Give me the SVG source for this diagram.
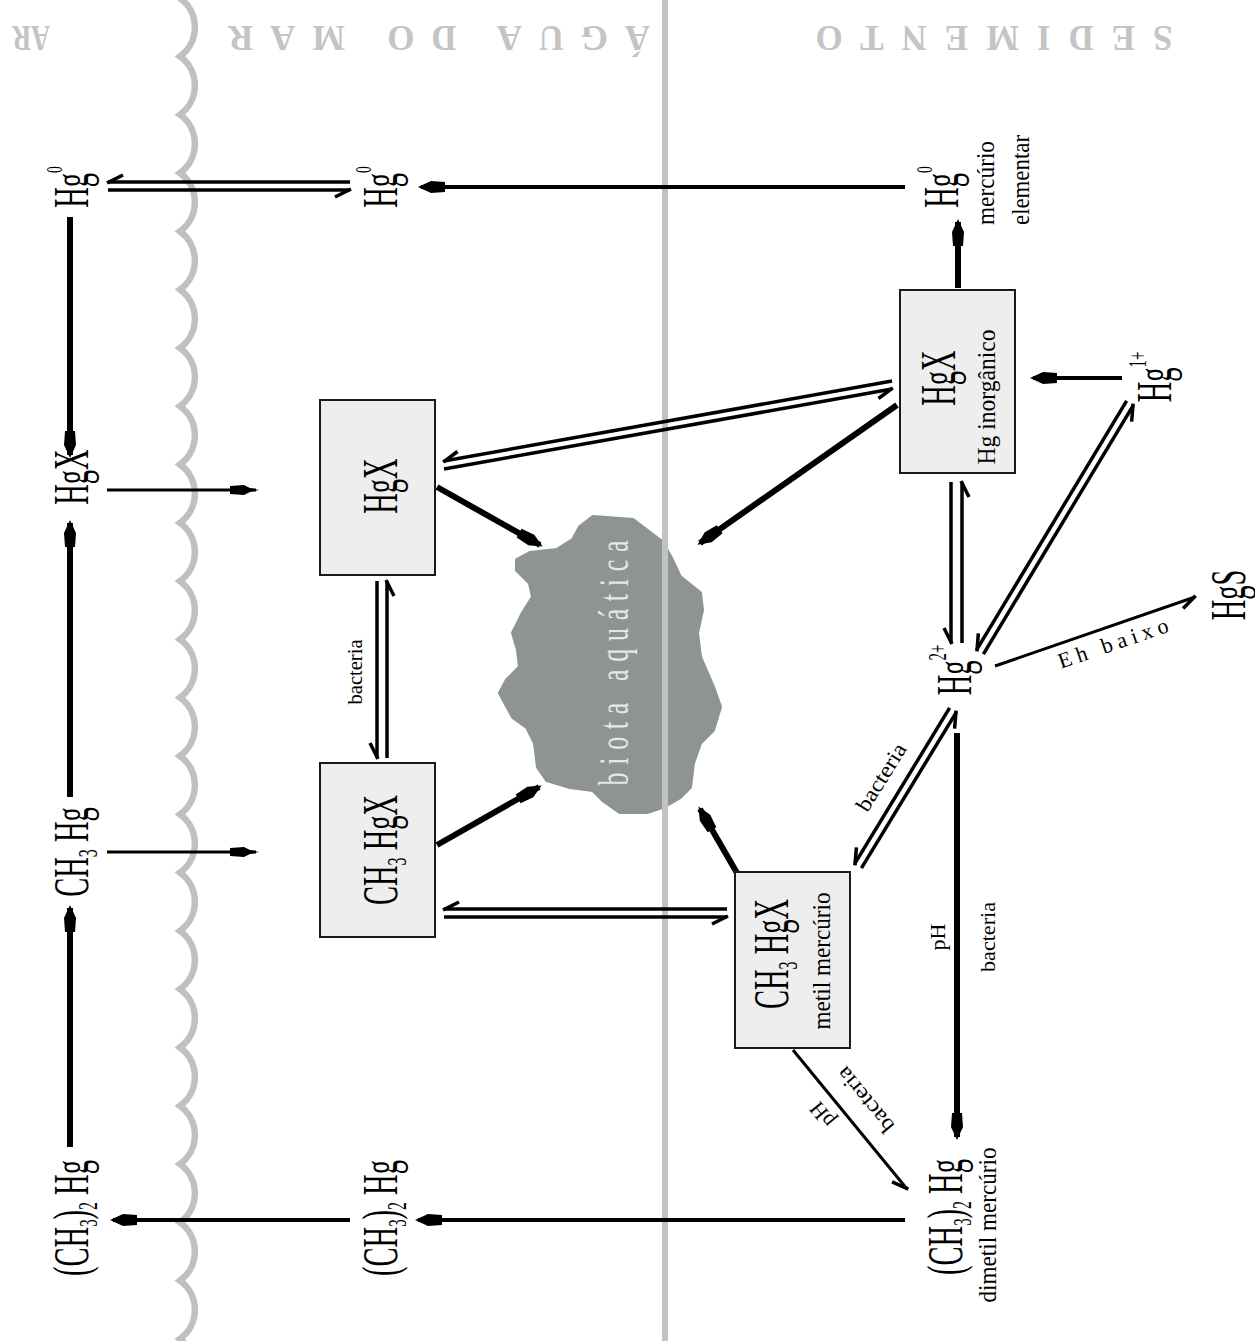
<svg xmlns="http://www.w3.org/2000/svg" width="1255" height="1341" viewBox="0 0 1255 1341">
<defs>
<style>
text{font-family:"Liberation Serif","Times New Roman",serif;fill:#000}
.f{font-size:50px;text-anchor:middle}
.s{font-size:25px;text-anchor:middle}
.l{font-size:22px;text-anchor:middle}
.hdr{font-size:35px;font-weight:bold;fill:#c4c4c4;text-anchor:middle}
.box{fill:#eeeeee;stroke:#1a1a1a;stroke-width:2}
.thick{stroke-width:6}
.med{stroke-width:4}
.thin{stroke-width:3}
.dbl{stroke-width:3.5}
</style>
<marker id="ah" markerUnits="userSpaceOnUse" markerWidth="40" markerHeight="20" viewBox="-30 -10 40 20" refX="0" refY="0" orient="auto" overflow="visible">
<path d="M3,0 L-10,-6 L-24,-5 L-24,5 L-10,6 Z" fill="#000"/>
</marker>
<marker id="ahs" markerUnits="userSpaceOnUse" markerWidth="40" markerHeight="20" viewBox="-30 -10 40 20" refX="0" refY="0" orient="auto" overflow="visible">
<path d="M3,0 L-6,-2 L-12,-5 L-26,-4 L-26,4 L-12,5 L-6,2 Z" fill="#000"/>
</marker>
<marker id="hr" markerUnits="userSpaceOnUse" markerWidth="30" markerHeight="20" viewBox="-20 -10 30 20" refX="0" refY="0" orient="auto" overflow="visible">
<path d="M1,-1 L-15,7" stroke="#000" stroke-width="3.5" fill="none"/>
</marker>
</defs>
<rect width="1255" height="1341" fill="#fff"/>

<g id="background">
<path d="M180,-60.2 a36,36 0 0 1 0,58.3 a36,36 0 0 1 0,58.3 a36,36 0 0 1 0,58.3 a36,36 0 0 1 0,58.3 a36,36 0 0 1 0,58.3 a36,36 0 0 1 0,58.3 a36,36 0 0 1 0,58.3 a36,36 0 0 1 0,58.3 a36,36 0 0 1 0,58.3 a36,36 0 0 1 0,58.3 a36,36 0 0 1 0,58.3 a36,36 0 0 1 0,58.3 a36,36 0 0 1 0,58.3 a36,36 0 0 1 0,58.3 a36,36 0 0 1 0,58.3 a36,36 0 0 1 0,58.3 a36,36 0 0 1 0,58.3 a36,36 0 0 1 0,58.3 a36,36 0 0 1 0,58.3 a36,36 0 0 1 0,58.3 a36,36 0 0 1 0,58.3 a36,36 0 0 1 0,58.3 a36,36 0 0 1 0,58.3 a36,36 0 0 1 0,58.3 a36,36 0 0 1 0,58.3" fill="none" stroke="#c0c0c0" stroke-width="6.5"/>
<text class="hdr" x="31" y="50" textLength="38" lengthAdjust="spacingAndGlyphs" transform="rotate(180 31 38)">AR</text>
<text class="hdr" x="439" y="50" textLength="422" lengthAdjust="spacing" transform="rotate(180 439 38)">ÁGUA DO MAR</text>
<text class="hdr" x="994" y="50" textLength="357" lengthAdjust="spacing" transform="rotate(180 994 38)">SEDIMENTO</text>
</g>

<g id="biota">
<path d="M580,527 L593,517 L633,520 L662,542 L672,560 L680,577 L700,593 L702,610 L697,633 L700,657 L713,687 L720,707 L713,730 L700,743 L693,763 L690,787 L680,797 L670,803 L662,807 L647,812 L620,812 L603,800 L593,790 L570,787 L547,780 L538,767 L535,743 L527,727 L513,717 L500,693 L507,680 L520,667 L518,650 L513,633 L523,613 L533,597 L530,583 L517,570 L517,560 L530,553 L557,550 L573,540 Z" fill="#8e9490" stroke="#8e9490" stroke-width="4" stroke-linejoin="round"/>
<text transform="translate(628,663) rotate(-90) scale(0.62,1)" style="font-size:42px;fill:#e6e6e6;text-anchor:middle" textLength="395" lengthAdjust="spacing">biota aquática</text>
</g>

<line id="sediment-boundary" x1="665" y1="0" x2="665" y2="1341" stroke="#c2c2c2" stroke-width="6"/>

<g id="connectors" fill="none" stroke="#000">
<line class="thick" x1="70" y1="217" x2="70" y2="455" marker-end="url(#ah)"/>
<line class="thick" x1="70" y1="797" x2="70" y2="523" marker-end="url(#ah)"/>
<line class="thick" x1="70" y1="1147" x2="70" y2="908" marker-end="url(#ah)"/>
<line class="thin" x1="107" y1="490" x2="256" y2="490" marker-end="url(#ahs)"/>
<line class="thin" x1="107" y1="852" x2="256" y2="852" marker-end="url(#ahs)"/>
<line class="dbl" x1="350" y1="182" x2="108" y2="182" marker-end="url(#hr)"/>
<line class="dbl" x1="108" y1="190" x2="350" y2="190" marker-end="url(#hr)"/>
<line class="med" x1="905" y1="187" x2="421" y2="187" marker-end="url(#ah)"/>
<line class="med" x1="905" y1="1220" x2="418" y2="1220" marker-end="url(#ah)"/>
<line class="med" x1="350" y1="1220" x2="113" y2="1220" marker-end="url(#ah)"/>
<line class="dbl" x1="377" y1="581" x2="377" y2="758" marker-end="url(#hr)"/>
<line class="dbl" x1="387" y1="758" x2="387" y2="581" marker-end="url(#hr)"/>
<line class="dbl" x1="892" y1="381" x2="444" y2="461" marker-end="url(#hr)"/>
<line class="dbl" x1="444" y1="469" x2="892" y2="389" marker-end="url(#hr)"/>
<line class="dbl" x1="727" y1="909" x2="444" y2="909" marker-end="url(#hr)"/>
<line class="dbl" x1="444" y1="917" x2="727" y2="917" marker-end="url(#hr)"/>
<line class="thick" x1="437" y1="487" x2="540" y2="545" marker-end="url(#ah)"/>
<line class="thick" x1="437" y1="845" x2="539" y2="787" marker-end="url(#ah)"/>
<line class="thick" x1="897" y1="405" x2="700" y2="543" marker-end="url(#ah)"/>
<line class="thick" x1="737" y1="873" x2="700" y2="809" marker-end="url(#ah)"/>
<line class="thick" x1="958" y1="288" x2="958" y2="222" marker-end="url(#ah)"/>
<line class="med" x1="1122" y1="378" x2="1033" y2="378" marker-end="url(#ah)"/>
<line class="dbl" x1="951" y1="482" x2="951" y2="643" marker-end="url(#hr)"/>
<line class="dbl" x1="962" y1="643" x2="962" y2="482" marker-end="url(#hr)"/>
<line class="dbl" x1="1126.6" y1="400.9" x2="976.6" y2="649.9" marker-end="url(#hr)"/>
<line class="dbl" x1="983.4" y1="654.1" x2="1133.4" y2="405.1" marker-end="url(#hr)"/>
<line class="thin" x1="995" y1="666" x2="1195" y2="597" marker-end="url(#hr)"/>
<line class="dbl" x1="949.6" y1="707.9" x2="854.6" y2="863.9" marker-end="url(#hr)"/>
<line class="dbl" x1="861.4" y1="868.1" x2="956.4" y2="712.1" marker-end="url(#hr)"/>
<line class="thick" x1="957" y1="733" x2="957" y2="1137" marker-end="url(#ah)"/>
<line class="thin" x1="793" y1="1050" x2="907" y2="1189" marker-end="url(#hr)"/>
<g stroke="none">
<text class="l" transform="translate(362,672) rotate(-90)" textLength="65" lengthAdjust="spacingAndGlyphs">bacteria</text>
<text class="l" transform="translate(945,937) rotate(-90)" textLength="27" lengthAdjust="spacingAndGlyphs">pH</text>
<text class="l" transform="translate(995,937) rotate(-90)" textLength="70" lengthAdjust="spacingAndGlyphs">bacteria</text>
<text class="l" dominant-baseline="central" transform="translate(881,777) rotate(-58)" textLength="76" lengthAdjust="spacingAndGlyphs">bacteria</text>
<text class="l" dominant-baseline="central" transform="translate(1113,643) rotate(-19)" textLength="115" lengthAdjust="spacing">Eh baixo</text>
<text class="l" dominant-baseline="central" transform="translate(865,1100) rotate(230.6)" textLength="78" lengthAdjust="spacingAndGlyphs">bacteria</text>
<text class="l" dominant-baseline="central" transform="translate(822,1115) rotate(230.6)" textLength="26" lengthAdjust="spacingAndGlyphs">pH</text>
</g>
</g>

<g id="ar-hg0"><text class="f" transform="translate(88,187) rotate(-90) scale(0.57,1)">Hg<tspan font-size="24" dy="-26">0</tspan></text></g>
<g id="ar-hgx"><text class="f" transform="translate(88,477) rotate(-90) scale(0.57,1)">HgX</text></g>
<g id="ar-ch3hg"><text class="f" transform="translate(88,852) rotate(-90) scale(0.57,1)">CH<tspan font-size="28" dy="9">3</tspan><tspan dy="-9"> Hg</tspan></text></g>
<g id="ar-ch32hg"><text class="f" transform="translate(88,1218) rotate(-90) scale(0.57,1)">(CH<tspan font-size="26" dy="9">3</tspan><tspan dy="-9">)</tspan><tspan font-size="28" dy="9">2</tspan><tspan dy="-9"> Hg</tspan></text></g>

<g id="mar-hg0"><text class="f" transform="translate(397,187) rotate(-90) scale(0.57,1)">Hg<tspan font-size="24" dy="-26">0</tspan></text></g>
<g id="mar-hgx"><rect class="box" x="320" y="400" width="115" height="175"/><text class="f" transform="translate(397,486) rotate(-90) scale(0.57,1)">HgX</text></g>
<g id="mar-ch3hgx"><rect class="box" x="320" y="763" width="115" height="174"/><text class="f" transform="translate(397,850) rotate(-90) scale(0.57,1)">CH<tspan font-size="28" dy="9">3</tspan><tspan dy="-9"> HgX</tspan></text></g>
<g id="mar-ch32hg"><text class="f" transform="translate(397,1218) rotate(-90) scale(0.57,1)">(CH<tspan font-size="26" dy="9">3</tspan><tspan dy="-9">)</tspan><tspan font-size="28" dy="9">2</tspan><tspan dy="-9"> Hg</tspan></text></g>

<g id="sed-hg0">
<text class="f" transform="translate(958,187) rotate(-90) scale(0.57,1)">Hg<tspan font-size="24" dy="-26">0</tspan></text>
<text class="s" transform="translate(994,183) rotate(-90)" textLength="84" lengthAdjust="spacingAndGlyphs">mercúrio</text>
<text class="s" transform="translate(1029,180) rotate(-90)" textLength="90" lengthAdjust="spacingAndGlyphs">elementar</text>
</g>
<g id="sed-hgx">
<rect class="box" x="900" y="290" width="115" height="183"/>
<text class="f" transform="translate(955,378) rotate(-90) scale(0.57,1)">HgX</text>
<text class="s" transform="translate(995,397) rotate(-90)" textLength="135" lengthAdjust="spacingAndGlyphs">Hg  inorgânico</text>
</g>
<g id="sed-hg1"><text class="f" transform="translate(1171,377) rotate(-90) scale(0.57,1)">Hg<tspan font-size="26" dy="-25">1+</tspan></text></g>
<g id="sed-hg2"><text class="f" transform="translate(971,670) rotate(-90) scale(0.57,1)">Hg<tspan font-size="26" dy="-25">2+</tspan></text></g>
<g id="sed-hgs"><text class="f" transform="translate(1245,595) rotate(-90) scale(0.57,1)">HgS</text></g>
<g id="sed-ch3hgx">
<rect class="box" x="735" y="872" width="115" height="176"/>
<text class="f" transform="translate(788,954) rotate(-90) scale(0.57,1)">CH<tspan font-size="28" dy="9">3</tspan><tspan dy="-9"> HgX</tspan></text>
<text class="s" transform="translate(830,961) rotate(-90)" textLength="137" lengthAdjust="spacingAndGlyphs">metil mercúrio</text>
</g>
<g id="sed-ch32hg">
<text class="f" transform="translate(962,1217) rotate(-90) scale(0.57,1)">(CH<tspan font-size="26" dy="9">3</tspan><tspan dy="-9">)</tspan><tspan font-size="28" dy="9">2</tspan><tspan dy="-9"> Hg</tspan></text>
<text class="s" transform="translate(996,1225) rotate(-90)" textLength="155" lengthAdjust="spacingAndGlyphs">dimetil mercúrio</text>
</g>
</svg>
